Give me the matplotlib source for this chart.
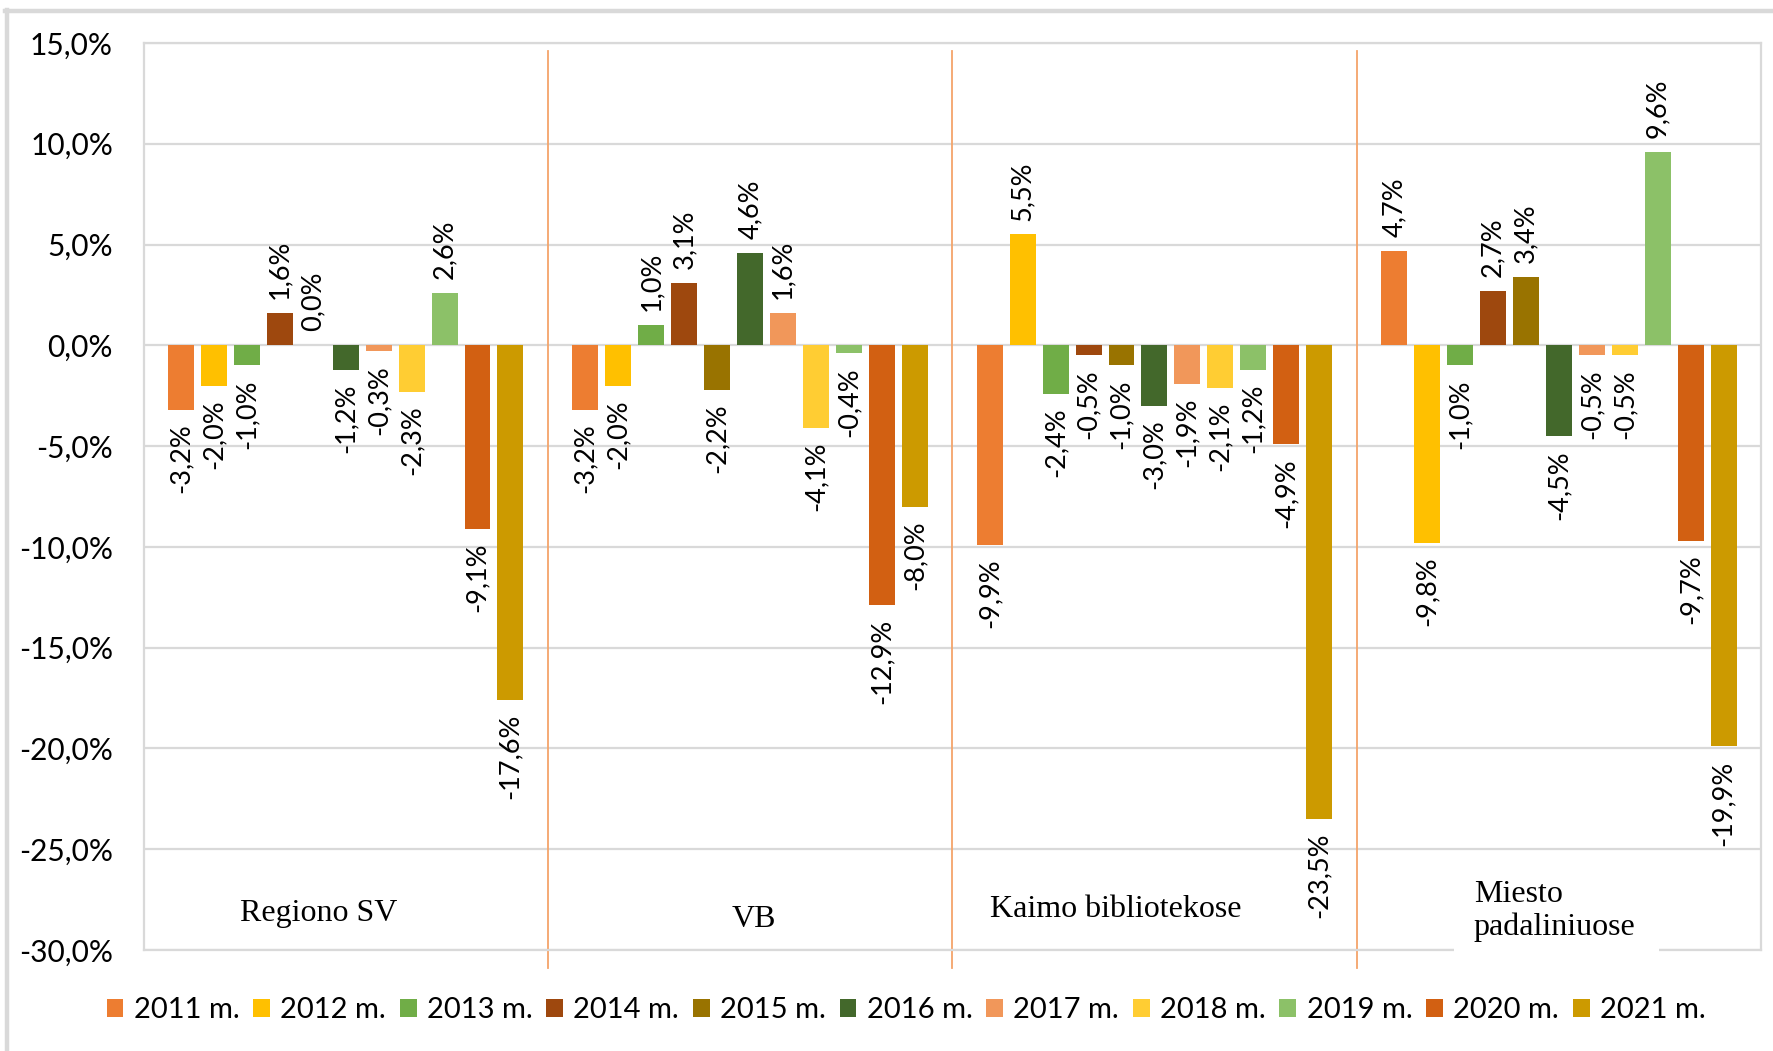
import matplotlib
matplotlib.use('Agg')
import matplotlib.pyplot as plt
from matplotlib.patches import Rectangle
from matplotlib.lines import Line2D
from matplotlib.ticker import FuncFormatter, MultipleLocator

# ---------------- data ----------------
categories = ['Regiono SV', 'VB', 'Kaimo bibliotekose', 'Miesto\npadaliniuose']
years = ['2011 m.', '2012 m.', '2013 m.', '2014 m.', '2015 m.', '2016 m.',
         '2017 m.', '2018 m.', '2019 m.', '2020 m.', '2021 m.']
y2011 = [-3.2, -3.2, -9.9, 4.7]
y2012 = [-2.0, -2.0, 5.5, -9.8]
y2013 = [-1.0, 1.0, -2.4, -1.0]
y2014 = [1.6, 3.1, -0.5, 2.7]
y2015 = [0.0, -2.2, -1.0, 3.4]
y2016 = [-1.2, 4.6, -3.0, -4.5]
y2017 = [-0.3, 1.6, -1.9, -0.5]
y2018 = [-2.3, -4.1, -2.1, -0.5]
y2019 = [2.6, -0.4, -1.2, 9.6]
y2020 = [-9.1, -12.9, -4.9, -9.7]
y2021 = [-17.6, -8.0, -23.5, -19.9]
series = [y2011, y2012, y2013, y2014, y2015, y2016, y2017, y2018, y2019, y2020, y2021]
colors = ['#ED7D31', '#FFC000', '#70AD47', '#9E480E', '#997300', '#43682B',
          '#F1975A', '#FFCD33', '#8CC168', '#D26012', '#CC9A00']

FONT = ['Lato', 'DejaVu Sans']
SERIF = ['Liberation Serif', 'DejaVu Serif']
plt.rcParams['font.family'] = FONT

W, H = 1773, 1051
fig = plt.figure(figsize=(W / 100, H / 100), dpi=100)
ax = fig.add_axes([143.5 / W, 1 - 950 / H, (1761 - 143.5) / W, (950 - 43) / H])

pitch = 33 / 405
bw = 26 / 405
n = len(series)
for j, (vals, c, lab) in enumerate(zip(series, colors, years)):
    xs = [i + (j - (n - 1) / 2) * pitch for i in range(len(categories))]
    ax.bar(xs, vals, width=bw, color=c, label=lab, zorder=3)
    for x, v in zip(xs, vals):
        txt = f"{v:.1f}%".replace('.', ',')
        if v >= 0:
            ax.annotate(txt, (x, v), xytext=(0, 10), textcoords='offset points',
                        rotation=90, ha='center', va='bottom', fontsize=19.5,
                        color='#000000', zorder=5)
        else:
            ax.annotate(txt, (x, v), xytext=(0, -10), textcoords='offset points',
                        rotation=90, ha='center', va='top', fontsize=19.5,
                        color='#000000', zorder=5)

ax.set_xlim(-0.5, len(categories) - 0.5)
ax.set_ylim(-30, 15)
ax.yaxis.set_major_locator(MultipleLocator(5))
ax.yaxis.set_major_formatter(FuncFormatter(lambda v, p: f"{v:.1f}%".replace('.', ',')))
ax.tick_params(axis='y', length=0, pad=22, labelsize=21.5, labelcolor='#000000')
ax.tick_params(axis='x', length=0, labelbottom=False)
ax.set_xticks([])
ax.grid(axis='y', color='#D9D9D9', linewidth=1.6, zorder=1)
ax.set_axisbelow(True)
for s in ax.spines.values():
    s.set_color('#D9D9D9')
    s.set_linewidth(1.6)

# group separators
for k in range(1, len(categories)):
    ax.plot([k - 0.5, k - 0.5], [14.6, -30.9], color='#F4A46A', linewidth=1.3,
            clip_on=False, zorder=2)

# group labels
lab_pos = [(-0.067, -28.2, 'center'), (0.01, -28.5, 'center'), (-0.095, -28.0, 'center'),
           (-0.21, -28.05, 'left')]
for i, (name, (dx, yy, ha)) in enumerate(zip(categories, lab_pos)):
    ax.text(i + dx, yy, name, ha=ha, va='center', fontsize=23, family=SERIF,
            color='#000000', zorder=6, linespacing=1.17)

# white box under last group label
ax.add_patch(Rectangle((3 - 0.5 + 98 / 405, -30.6), 205 / 405, 3.5,
                       facecolor='white', edgecolor='none', clip_on=False, zorder=4))

leg = fig.legend(loc='center', bbox_to_anchor=(906 / W, 1 - 1010 / H), ncol=11,
                 frameon=False, fontsize=21, handlelength=0.58, handleheight=0.58,
                 handletextpad=0.35, columnspacing=0.47, borderaxespad=0)

# outer chart border (left & top visible)
fig.add_artist(Line2D([6.5 / W, 6.5 / W], [0, 1 - 10 / H], color='#D9D9D9', linewidth=3.2))
fig.add_artist(Line2D([5 / W, 1], [1 - 10.5 / H, 1 - 10.5 / H], color='#D9D9D9', linewidth=3.2))

fig.savefig('out.png', dpi=100, facecolor='white')
